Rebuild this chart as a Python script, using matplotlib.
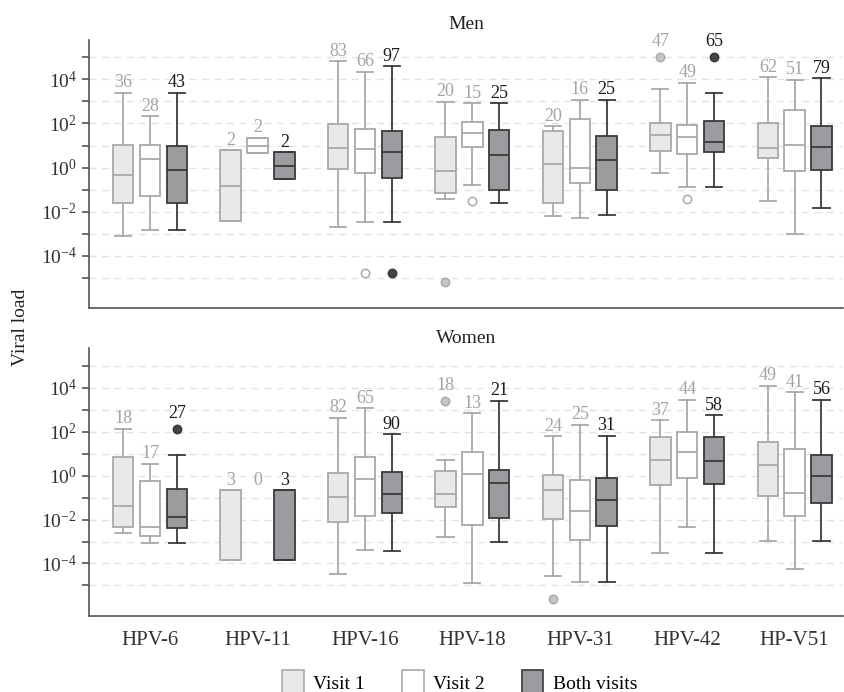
import numpy as np
import matplotlib
matplotlib.use("Agg")
import matplotlib.pyplot as plt
from matplotlib.patches import Patch
from matplotlib.ticker import FuncFormatter

plt.rcParams["font.family"] = ["Liberation Serif", "DejaVu Serif"]
plt.rcParams["mathtext.fontset"] = "custom"
plt.rcParams["mathtext.rm"] = "Liberation Serif"
plt.rcParams["mathtext.it"] = "Liberation Serif:italic"

categories = ["HPV-6", "HPV-11", "HPV-16", "HPV-18", "HPV-31", "HPV-42", "HP-V51"]
series = ["Visit 1", "Visit 2", "Both visits"]

# box stats in log10(viral load): [whisker low, q1, median, q3, whisker high]
men_v1_box = [
    [-3.11, -1.60, -0.33, 1.01, 3.40],
    [-2.42, -2.42, -0.83, 0.78, 0.78],
    [-2.69, -0.08, 0.89, 1.96, 4.83],
    [-1.43, -1.15, -0.15, 1.37, 2.99],
    [-2.20, -1.60, 0.15, 1.65, 1.89],
    [-0.24, 0.75, 1.49, 2.04, 3.56],
    [-1.52, 0.42, 0.89, 2.02, 4.11],
]
men_v1_out = [[], [], [], [-5.21], [], [5.03], []]
men_v1_n = [36, 2, 83, 20, 20, 47, 62]

men_v2_box = [
    [-2.82, -1.31, 0.41, 1.01, 2.34],
    [0.66, 0.66, 1.00, 1.36, 1.36],
    [-2.49, -0.23, 0.83, 1.75, 4.35],
    [-0.80, 0.92, 1.58, 2.08, 2.93],
    [-2.29, -0.68, 0.00, 2.20, 3.08],
    [-0.88, 0.63, 1.40, 1.93, 3.86],
    [-3.00, -0.17, 1.01, 2.60, 3.99],
]
men_v2_out = [[], [], [-4.79], [-1.54], [], [-1.42], []]
men_v2_n = [28, 2, 66, 15, 16, 49, 51]

men_both_box = [
    [-2.82, -1.60, -0.11, 0.98, 3.40],
    [-0.54, -0.54, 0.09, 0.71, 0.71],
    [-2.49, -0.48, 0.72, 1.66, 4.59],
    [-1.60, -1.03, 0.57, 1.69, 2.93],
    [-2.17, -1.04, 0.33, 1.45, 3.08],
    [-0.88, 0.71, 1.16, 2.13, 3.38],
    [-1.84, -0.09, 0.92, 1.89, 4.05],
]
men_both_out = [[], [], [-4.79], [], [], [5.03], []]
men_both_n = [43, 2, 97, 25, 25, 65, 79]

women_v1_box = [
    [-2.63, -2.34, -1.40, 0.85, 2.13],
    [-3.83, -3.83, -0.66, -0.66, -0.66],
    [-4.50, -2.10, -0.97, 0.12, 2.63],
    [-2.81, -1.45, -0.82, 0.23, 0.71],
    [-4.57, -1.96, -0.66, 0.01, 1.80],
    [-3.53, -0.45, 0.71, 1.75, 2.52],
    [-2.99, -0.94, 0.48, 1.51, 4.09],
]
women_v1_out = [[], [], [], [3.41], [-5.62], [], []]
women_v1_n = [18, 3, 82, 18, 24, 37, 49]

women_v2_box = [
    [-3.05, -2.73, -2.34, -0.27, 0.54],
    None,
    [-3.37, -1.86, -0.17, 0.86, 3.06],
    [-4.89, -2.23, 0.08, 1.09, 2.84],
    [-4.85, -2.91, -1.60, -0.20, 2.32],
    [-2.35, -0.12, 1.06, 1.98, 3.46],
    [-4.24, -1.83, -0.80, 1.22, 3.80],
]
women_v2_out = [[], [], [], [], [], [], []]
women_v2_n = [17, 0, 65, 13, 25, 44, 41]

women_both_box = [
    [-3.05, -2.40, -1.87, -0.63, 0.94],
    [-3.83, -3.83, -0.66, -0.66, -0.66],
    [-3.43, -1.71, -0.86, 0.15, 1.87],
    [-3.03, -1.92, -0.36, 0.26, 3.40],
    [-4.85, -2.28, -1.13, -0.09, 1.81],
    [-3.53, -0.39, 0.68, 1.77, 2.75],
    [-2.99, -1.25, -0.01, 0.94, 3.46],
]
women_both_out = [[2.13], [], [], [], [], [], []]
women_both_n = [27, 3, 90, 21, 31, 58, 56]

face_colors = ["#e9e9eb", "#ffffff", "#9b9c9f"]
edge_colors = ["#a9a9a9", "#a9a9a9", "#3a3a3a"]
flier_colors = ["#c6c6c6", "#ffffff", "#444444"]
label_colors = ["#a3a3a3", "#a3a3a3", "#1a1a1a"]
offsets = [-0.25, 0.0, 0.25]


def draw_panel(ax, boxes, outs, ns, title, title_pad):
    xs = np.arange(len(categories))
    for k in range(3):
        stats, pos = [], []
        for i, b in enumerate(boxes[k]):
            if b is None:
                continue
            v = 10.0 ** np.array(b)
            stats.append(dict(whislo=v[0], q1=v[1], med=v[2], q3=v[3], whishi=v[4],
                              fliers=10.0 ** np.array(outs[k][i], dtype=float)))
            pos.append(xs[i] + offsets[k])
        ec = edge_colors[k]
        ax.bxp(stats, positions=pos, widths=0.19, capwidths=0.15, patch_artist=True,
               boxprops=dict(facecolor=face_colors[k], edgecolor=ec, linewidth=1.3),
               medianprops=dict(color=ec, linewidth=1.3),
               whiskerprops=dict(color=ec, linewidth=1.3),
               capprops=dict(color=ec, linewidth=1.3),
               flierprops=dict(marker="o", markersize=6, markerfacecolor=flier_colors[k],
                               markeredgecolor=ec, markeredgewidth=1.1),
               manage_ticks=False, zorder=3)
        for i, n in enumerate(ns[k]):
            b = boxes[k][i] if boxes[k][i] is not None else boxes[0][i]
            top = b[4]
            extra = 1
            if outs[k][i] and max(outs[k][i]) > top:
                top = max(outs[k][i])
                extra = 5
            ax.annotate(str(n), (xs[i] + offsets[k], 10.0 ** top), xytext=(0, extra),
                        textcoords="offset points", ha="center", va="bottom",
                        fontsize=13, color=label_colors[k], zorder=4)

    ax.set_yscale("log")
    ax.set_ylim(10.0 ** -6.39, 10.0 ** 5.79)
    ax.set_xlim(-0.565, 6.45)
    ax.set_yticks(10.0 ** np.arange(-5, 6))
    ax.yaxis.set_minor_locator(plt.NullLocator())
    ax.yaxis.set_major_formatter(FuncFormatter(
        lambda v, _: f"$\\mathregular{{10^{{{int(round(np.log10(v)))}}}}}$"
        if int(round(np.log10(v))) % 2 == 0 else ""))
    ax.grid(axis="y", linestyle=(0, (5, 4)), color="#e2e2e2", linewidth=1.0, zorder=0)
    ax.set_axisbelow(True)
    for s in ["top", "right"]:
        ax.spines[s].set_visible(False)
    for s in ["left", "bottom"]:
        ax.spines[s].set_color("#555555")
        ax.spines[s].set_linewidth(1.2)
    ax.tick_params(axis="y", length=5, width=1.2, color="#555555", labelsize=14,
                   labelcolor="#333333", pad=4)
    ax.tick_params(axis="x", length=0, labelsize=15, labelcolor="#333333", pad=11)
    ax.set_xticks(xs)
    ax.set_title(title, fontsize=14, color="#222222", pad=title_pad)


fig = plt.figure(figsize=(8.44, 6.92), dpi=100)
ax_men = fig.add_axes([0.1058, 0.5545, 0.893, 0.3877])
ax_women = fig.add_axes([0.1058, 0.1098, 0.893, 0.3869])

draw_panel(ax_men, [men_v1_box, men_v2_box, men_both_box],
           [men_v1_out, men_v2_out, men_both_out],
           [men_v1_n, men_v2_n, men_both_n], "Men", 8)
ax_men.set_xticklabels([])
draw_panel(ax_women, [women_v1_box, women_v2_box, women_both_box],
           [women_v1_out, women_v2_out, women_both_out],
           [women_v1_n, women_v2_n, women_both_n], "Women", 4)
ax_women.set_xticklabels(categories)

fig.text(0.024, 0.527, "Viral load", rotation=90, ha="center", va="center",
         fontsize=14, color="#222222")

handles = [Patch(facecolor=face_colors[k], edgecolor=edge_colors[k], linewidth=1.2)
           for k in range(3)]
fig.legend(handles, series, loc="lower center", bbox_to_anchor=(0.545, -0.03), ncol=3,
           frameon=False, fontsize=14, handlelength=1.1, handleheight=1.6,
           columnspacing=1.9, handletextpad=0.5)

fig.savefig("out.png", dpi=100)
